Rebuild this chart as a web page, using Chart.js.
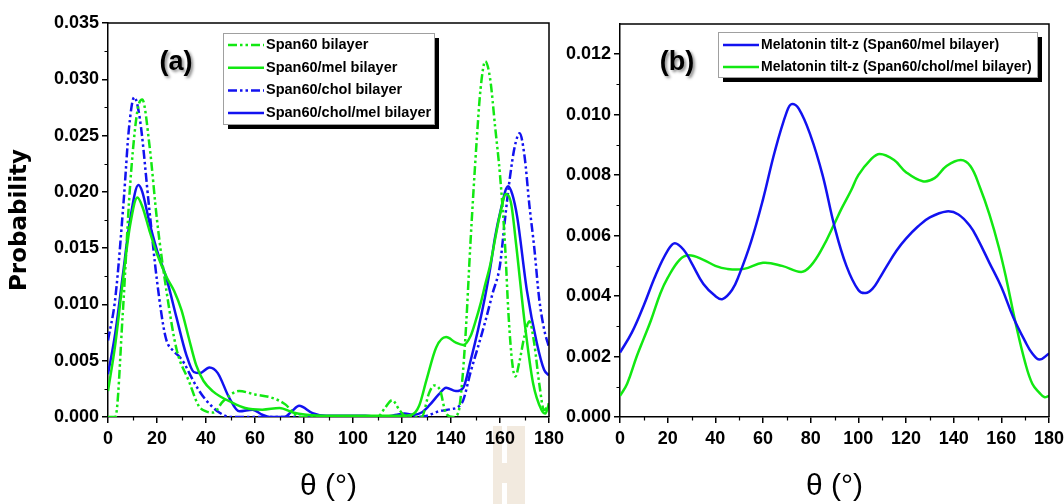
<!DOCTYPE html>
<html>
<head>
<meta charset="utf-8">
<script src="https://cdn.jsdelivr.net/npm/chart.js@4.4.1/dist/chart.umd.min.js"></script>
<style>
  html, body { margin: 0; padding: 0; background: #fff; }
  body { width: 1064px; height: 504px; position: relative; overflow: hidden; }
  canvas { position: absolute; top: 0; }
  #chartA { left: 0; }
  #chartB { left: 540px; }
</style>
</head>
<body>
<canvas id="chartA" width="580" height="504"></canvas>
<canvas id="chartB" width="540" height="504"></canvas>
<script>
// (a) tail tilt distributions
const span60Theta = [0, 3, 6, 9, 12, 14, 17, 20, 24, 28, 33, 37, 40, 43, 47, 53.5, 60, 67, 72.5, 75.5, 78, 110, 113, 116, 119, 122, 128, 131, 133, 135.5, 138, 141, 143, 144.5, 146, 148, 150.5, 152, 154, 156, 158, 160, 162, 163.5, 165, 166.3, 168, 170, 172, 174, 176, 178, 180];
const span60Prob = [0, 0, 0.0091, 0.0205, 0.0272, 0.0282, 0.0240, 0.0175, 0.0110, 0.0060, 0.0032, 0.0010, 0.0005, 0.0004, 0.0014, 0.0023, 0.0020, 0.0017, 0.0011, 0.0004, 0, 0, 0.0008, 0.0015, 0.0006, 0, 0, 0.0021, 0.0028, 0.0024, 0.0003, 0, 0.0004, 0.0030, 0.0075, 0.0157, 0.0246, 0.0290, 0.0316, 0.0300, 0.0258, 0.0215, 0.0155, 0.0090, 0.0048, 0.0036, 0.0050, 0.0072, 0.0085, 0.0065, 0.0030, 0.0006, 0.0012];

const melTheta = [0, 3, 6, 9, 12, 14, 17, 20, 24, 27, 30, 33, 36, 39, 42.7, 46, 49.5, 56, 63, 70, 75.5, 81, 88, 100, 110, 120, 124, 127, 130, 134, 138, 142, 145, 148, 150, 152, 154, 156, 158, 160, 162.5, 164.5, 166.7, 170, 173.5, 177, 178.5, 180];
const melProb = [0.0023, 0.0065, 0.0120, 0.0170, 0.0195, 0.0187, 0.0165, 0.0145, 0.0124, 0.0112, 0.0095, 0.0070, 0.0046, 0.0032, 0.0023, 0.0018, 0.0014, 0.0008, 0.00065, 0.0008, 0.0004, 0.0002, 0.0001, 0.0001, 0.0001, 0.0001, 0.0002, 0.0010, 0.0033, 0.0062, 0.0071, 0.0066, 0.0064, 0.0072, 0.0085, 0.0100, 0.0118, 0.0135, 0.0158, 0.0180, 0.0198, 0.0190, 0.0151, 0.0085, 0.0030, 0.0006, 0.0003, 0.0012];

const cholTheta = [0, 3, 6.5, 8.5, 10.7, 13, 16.8, 20, 23.5, 27, 29, 31, 34.6, 37, 40, 45.4, 50, 60, 125, 130, 135, 140, 143, 145, 148, 151, 154, 157, 160, 162, 164, 166, 168, 170, 172, 174, 176, 178, 180];
const cholProb = [0.0068, 0.0106, 0.0195, 0.0255, 0.0284, 0.0265, 0.0186, 0.0121, 0.0071, 0.0058, 0.0054, 0.0048, 0.0033, 0.0024, 0.0015, 0.0004, 0, 0, 0, 0.0001, 0.0005, 0.0007, 0.0009, 0.0015, 0.0040, 0.0062, 0.0085, 0.0110, 0.0135, 0.0175, 0.0212, 0.0240, 0.0252, 0.0232, 0.0188, 0.0150, 0.0105, 0.0078, 0.0062];

const cholMelTheta = [0, 3, 6, 9, 12.4, 14, 17, 20, 24, 28, 32, 35, 37.5, 41.4, 44.8, 49.5, 53.6, 59, 63, 66, 72, 75, 78, 83.5, 89, 105, 112, 118, 121, 125, 128, 131, 135, 138, 142, 145, 148, 151, 154, 156, 158, 160, 163.3, 165, 167, 171, 175, 178, 180];
const cholMelProb = [0.0038, 0.0075, 0.0125, 0.0175, 0.0206, 0.0200, 0.0172, 0.0148, 0.0122, 0.0088, 0.0055, 0.0040, 0.0039, 0.0044, 0.0039, 0.0017, 0.0005, 0.00065, 0.0002, 0, 0, 0.0005, 0.0010, 0.00035, 0.0001, 0.0001, 0, 0.0002, 0.0003, 0.0002, 0.0004, 0.0010, 0.0020, 0.0026, 0.0023, 0.0026, 0.0050, 0.0077, 0.0108, 0.0132, 0.0160, 0.0181, 0.0205, 0.0198, 0.0178, 0.0112, 0.0066, 0.0042, 0.0037];

// (b) melatonin tilt
const melTiltTheta = [0, 5, 10, 15, 20, 23, 27, 30, 35, 40, 43, 47, 50, 55, 60, 65, 70, 72, 75, 80, 85, 90, 95, 100, 103, 106, 109, 112, 116, 120, 125, 130, 137, 142, 147, 150, 155, 160, 165, 170, 173, 176, 180];
const melTiltProb = [0.00213, 0.0028, 0.0037, 0.0047, 0.0055, 0.00575, 0.0055, 0.0051, 0.0044, 0.0040, 0.0039, 0.0042, 0.0047, 0.0058, 0.0072, 0.0088, 0.0101, 0.01035, 0.0102, 0.0093, 0.0080, 0.0063, 0.0050, 0.0042, 0.0041, 0.00425, 0.0046, 0.0050, 0.0055, 0.0059, 0.0063, 0.0066, 0.0068, 0.0067, 0.0063, 0.0059, 0.0051, 0.0043, 0.0033, 0.0025, 0.0021, 0.0019, 0.0021];

const cholMelTiltTheta = [0, 3, 7, 10, 13, 17, 20, 25, 29, 35, 40, 45, 52, 60, 68, 76, 80, 85, 90, 93, 97, 100, 105, 109, 115, 120, 127, 132, 137, 143, 147, 151, 155, 159, 162, 166, 170, 173, 176, 178, 180];
const cholMelTiltProb = [0.0007, 0.0011, 0.0020, 0.0026, 0.0032, 0.0041, 0.0046, 0.0052, 0.00535, 0.0052, 0.0050, 0.0049, 0.0049, 0.0051, 0.0050, 0.0048, 0.0050, 0.0056, 0.0064, 0.0069, 0.0075, 0.0080, 0.0085, 0.0087, 0.0085, 0.0081, 0.0078, 0.0079, 0.0083, 0.0085, 0.0083, 0.0076, 0.0067, 0.0056, 0.0046, 0.0031, 0.0018, 0.0011, 0.0008, 0.00066, 0.0007];

const xTicks = [0, 20, 40, 60, 80, 100, 120, 140, 160, 180];

const GREEN = '#12e812';
const BLUE = '#1212f0';
const DASH_DOT_DOT = [9, 3, 2.5, 3, 2.5, 3];

function points(theta, prob) {
  return theta.map((t, i) => ({x: t, y: prob[i]}));
}

// monotone keeps the zero stretches of (a) from dipping below the axis
function series(label, theta, prob, color, dash, smooth) {
  return {
    label: label,
    data: points(theta, prob),
    borderColor: color,
    borderWidth: 2.5,
    borderDash: dash || [],
    pointRadius: 0,
    cubicInterpolationMode: smooth ? 'default' : 'monotone',
    tension: smooth ? 0.4 : 0,
    fill: false
  };
}

function midpoints(ticks) {
  const out = [];
  for (let i = 0; i < ticks.length - 1; i++) {
    out.push((ticks[i].value + ticks[i + 1].value) / 2);
  }
  return out;
}

// frame, minor ticks, boxed legend and panel letter
const panelDecor = {
  id: 'panelDecor',
  beforeDraw(chart, args, opts) {
    if (!opts.stain) return;
    const ctx = chart.ctx;
    const s = opts.stain;
    ctx.save();
    ctx.fillStyle = '#f2eadf';
    ctx.fillRect(s.x, s.y, s.w, s.h);
    ctx.fillStyle = '#fff';
    ctx.fillRect(s.x + 9, s.y, 5, 37);
    ctx.fillRect(s.x + 9, s.y + 57, 5, s.h - 57);
    ctx.restore();
  },
  afterDraw(chart, args, opts) {
    const {ctx, chartArea: a} = chart;
    const sx = chart.scales.x, sy = chart.scales.y;
    ctx.save();
    ctx.strokeStyle = '#000';
    ctx.lineWidth = 1.5;
    ctx.beginPath();
    ctx.moveTo(a.left, a.top);
    ctx.lineTo(a.right, a.top);
    ctx.lineTo(a.right, a.bottom);
    ctx.stroke();

    ctx.lineWidth = 1.2;
    ctx.beginPath();
    midpoints(sx.ticks).forEach(v => {
      const px = Math.round(sx.getPixelForValue(v)) + 0.5;
      ctx.moveTo(px, a.bottom);
      ctx.lineTo(px, a.bottom + 3.5);
    });
    midpoints(sy.ticks).forEach(v => {
      const py = Math.round(sy.getPixelForValue(v)) + 0.5;
      ctx.moveTo(a.left - 3.5, py);
      ctx.lineTo(a.left, py);
    });
    ctx.stroke();

    // legend box with drop shadow
    const b = opts.legend;
    ctx.fillStyle = '#000';
    ctx.fillRect(b.x + 5, b.y + 5, b.w, b.h);
    ctx.fillStyle = '#fff';
    ctx.fillRect(b.x, b.y, b.w, b.h);
    ctx.strokeStyle = '#a0a0a0';
    ctx.lineWidth = 1;
    ctx.strokeRect(b.x + 0.5, b.y + 0.5, b.w, b.h);
    ctx.font = 'bold ' + b.fontSize + 'px "Liberation Sans", Arial, sans-serif';
    ctx.textBaseline = 'middle';
    ctx.textAlign = 'left';
    chart.data.datasets.forEach((ds, i) => {
      const y = b.y + b.first + i * b.gap;
      ctx.setLineDash(ds.borderDash);
      ctx.strokeStyle = ds.borderColor;
      ctx.lineWidth = ds.borderWidth;
      ctx.beginPath();
      ctx.moveTo(b.x + 5, y);
      ctx.lineTo(b.x + 41, y);
      ctx.stroke();
      ctx.setLineDash([]);
      ctx.fillStyle = '#000';
      ctx.fillText(ds.label, b.x + 43, y);
    });

    // panel letter
    ctx.font = 'bold 27px "Liberation Sans", Arial, sans-serif';
    ctx.textAlign = 'center';
    ctx.shadowColor = 'rgba(0,0,0,0.45)';
    ctx.shadowOffsetX = 2;
    ctx.shadowOffsetY = 2;
    ctx.shadowBlur = 3;
    ctx.fillStyle = '#000';
    ctx.fillText(opts.label, opts.labelX, opts.labelY);
    ctx.restore();
  }
};

function axisOptions(cfg) {
  const tickFont = {family: '"Liberation Sans", Arial, sans-serif', size: 18, weight: 'bold'};
  return {
    x: {
      type: 'linear',
      min: 0,
      max: 180,
      afterBuildTicks: s => { s.ticks = xTicks.map(v => ({value: v})); },
      afterFit: s => { s.height = 87; },
      ticks: {color: '#000', font: tickFont, padding: 5, maxRotation: 0},
      grid: {drawOnChartArea: false, drawTicks: true, tickLength: 6, color: '#000', lineWidth: 1.5},
      border: {display: true, color: '#000', width: 1.5},
      title: {
        display: true,
        text: 'θ (°)',
        color: '#000',
        font: {family: '"Liberation Sans", Arial, sans-serif', size: 30, lineHeight: 1},
        padding: {top: 0, bottom: 2}
      }
    },
    y: {
      type: 'linear',
      min: 0,
      max: cfg.yMax,
      afterFit: s => { s.width = cfg.yWidth; },
      ticks: {
        stepSize: cfg.yStep,
        includeBounds: false,
        color: '#000',
        font: tickFont,
        padding: 3,
        callback: v => v.toFixed(3)
      },
      grid: {drawOnChartArea: false, drawTicks: true, tickLength: 6, color: '#000', lineWidth: 1.5},
      border: {display: true, color: '#000', width: 1.5},
      title: {
        display: !!cfg.yTitle,
        text: cfg.yTitle || '',
        color: '#000',
        font: {family: '"DejaVu Sans", sans-serif', size: 23, weight: 'bold', lineHeight: 1},
        padding: {top: 9, bottom: 0}
      }
    }
  };
}

new Chart(document.getElementById('chartA').getContext('2d'), {
  type: 'line',
  data: {
    datasets: [
      series('Span60 bilayer', span60Theta, span60Prob, GREEN, DASH_DOT_DOT),
      series('Span60/mel bilayer', melTheta, melProb, GREEN),
      series('Span60/chol bilayer', cholTheta, cholProb, BLUE, DASH_DOT_DOT),
      series('Span60/chol/mel bilayer', cholMelTheta, cholMelProb, BLUE)
    ]
  },
  options: {
    responsive: false,
    animation: false,
    layout: {padding: {left: 0, top: 23, right: 31, bottom: 0}},
    scales: axisOptions({yMax: 0.035, yStep: 0.005, yWidth: 108, yTitle: 'Probability'}),
    plugins: {
      legend: {display: false},
      tooltip: {enabled: false},
      panelDecor: {
        label: '(a)', labelX: 176, labelY: 63,
        legend: {x: 223, y: 33, w: 211, h: 91, first: 12, gap: 22.7, fontSize: 14.5},
        stain: {x: 493, y: 426, w: 32, h: 78}
      }
    }
  },
  plugins: [panelDecor]
});

new Chart(document.getElementById('chartB').getContext('2d'), {
  type: 'line',
  data: {
    datasets: [
      series('Melatonin tilt-z (Span60/mel bilayer)', melTiltTheta, melTiltProb, BLUE, null, true),
      series('Melatonin tilt-z (Span60/chol/mel bilayer)', cholMelTiltTheta, cholMelTiltProb, GREEN, null, true)
    ]
  },
  options: {
    responsive: false,
    animation: false,
    layout: {padding: {left: 0, top: 24, right: 31, bottom: 0}},
    scales: axisOptions({yMax: 0.013, yStep: 0.002, yWidth: 80}),
    plugins: {
      legend: {display: false},
      tooltip: {enabled: false},
      panelDecor: {
        label: '(b)', labelX: 137, labelY: 63,
        legend: {x: 178, y: 32, w: 319, h: 45, first: 13, gap: 22, fontSize: 14}
      }
    }
  },
  plugins: [panelDecor]
});
</script>
</body>
</html>
